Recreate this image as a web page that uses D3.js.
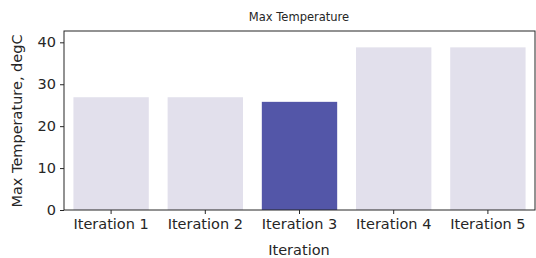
<!DOCTYPE html>
<html><head><meta charset="utf-8">
<script src="https://cdn.jsdelivr.net/npm/d3@7"></script>
<style>body{margin:0;background:#fff}svg{display:block}text{font-family:"DejaVu Sans",sans-serif;fill:#262626}</style>
</head><body>
<svg id="c" width="536" height="258"></svg>
<script>
const categories = ["Iteration 1","Iteration 2","Iteration 3","Iteration 4","Iteration 5"];
const values = [26.9, 26.9, 25.8, 38.8, 38.8];
const highlight = [false, false, true, false, false];
const yTicks = [0, 10, 20, 30, 40];
const yMax = 42.7;

const svg = d3.select("#c");
const m = {l:64, r:535, t:31, b:210};
const x = d3.scaleBand().domain(categories).range([m.l, m.r]).paddingInner(0.2).paddingOuter(0.1);
const y = d3.scaleLinear().domain([0, yMax]).range([m.b, m.t]);

svg.selectAll("rect.bar").data(categories).enter().append("rect")
  .attr("class","bar")
  .attr("x", d => x(d)).attr("width", x.bandwidth())
  .attr("y", (d,i) => y(values[i])).attr("height", (d,i) => y(0) - y(values[i]))
  .attr("fill", (d,i) => highlight[i] ? "#5356a8" : "#e2e0ec");

svg.append("rect").attr("x", m.l).attr("y", m.t).attr("width", m.r - m.l).attr("height", m.b - m.t)
  .attr("fill","none").attr("stroke","#262626").attr("stroke-width",1);

const xa = svg.append("g").attr("transform",`translate(0,${m.b})`)
  .call(d3.axisBottom(x).tickSize(4).tickPadding(5));
const ya = svg.append("g").attr("transform",`translate(${m.l},0)`)
  .call(d3.axisLeft(y).tickValues(yTicks).tickSize(4).tickPadding(4));
[xa, ya].forEach(g => {
  g.select(".domain").remove();
  g.selectAll(".tick line").attr("stroke","#262626");
  g.selectAll(".tick text").attr("font-size", 14.5).attr("fill","#262626").style("font-family","DejaVu Sans");
});

svg.append("text").attr("x", 299).attr("y", 21).attr("text-anchor","middle")
  .attr("font-size", 11.5).text("Max Temperature");
svg.append("text").attr("x", 299).attr("y", 255).attr("text-anchor","middle")
  .attr("font-size", 14.5).text("Iteration");
svg.append("text").attr("transform","translate(22,121) rotate(-90)").attr("text-anchor","middle")
  .attr("font-size", 14.5).text("Max Temperature, degC");
</script>
</body></html>
